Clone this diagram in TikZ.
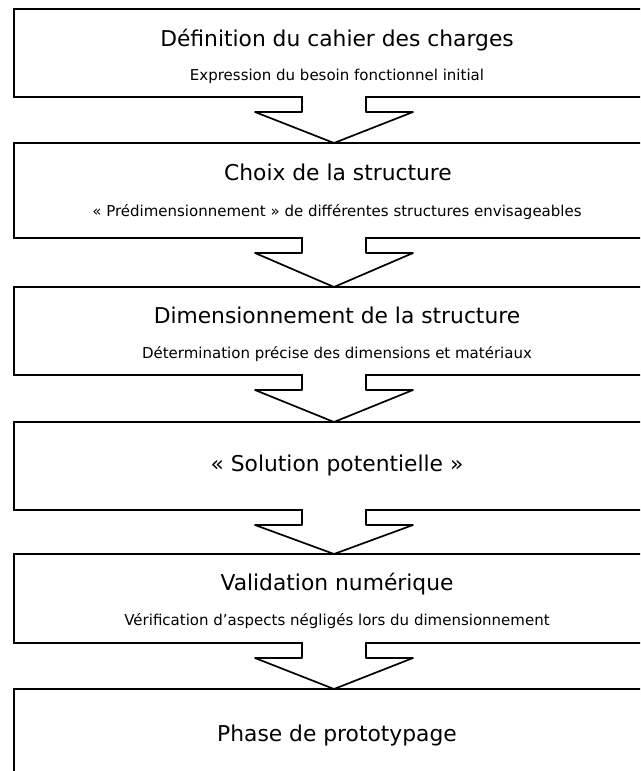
\documentclass[tikz,border=0pt]{standalone}
\usepackage{fontspec}
\setmainfont{DejaVu Sans}
\usetikzlibrary{calc}
\tikzset{
  stage/.style={draw=black, line width=2pt, fill=white, minimum width=640pt,
    inner sep=0pt, outer sep=0pt, anchor=north west},
  ttl/.style={anchor=base, inner sep=0pt, font=\fontsize{21.8}{26}\selectfont},
  sub/.style={anchor=base, inner sep=0pt, font=\fontsize{15}{18}\selectfont},
  arrline/.style={draw=black, line width=1.7pt, line join=round},
}
\newcommand\blockarrow[2]{%
  \fill[white] ($(#1.south)+(-32,-1.3)$) -- ($(#1.south)+(-32,15)$) -- ($(#1.south)+(-79,15)$)
     -- (#2.north) -- ($(#1.south)+(79,15)$) -- ($(#1.south)+(32,15)$) -- ($(#1.south)+(32,-1.3)$) -- cycle;
  \draw[arrline] ($(#1.south)+(-32,-1)$) -- ($(#1.south)+(-32,15)$) -- ($(#1.south)+(-79,15)$)
     -- (#2.north) -- ($(#1.south)+(79,15)$) -- ($(#1.south)+(32,15)$) -- ($(#1.south)+(32,-1)$);
}
\begin{document}
\begin{tikzpicture}[x=1pt,y=-1pt]
\useasboundingbox (0,0) rectangle (640,771);
\fill[white] (0,0) rectangle (640,771);
\clip (0,0) rectangle (640,771);
\node[stage, minimum height=88pt] (b1) at (14,9) {};
\node[stage, minimum height=95pt] (b2) at (14,143) {};
\node[stage, minimum height=88pt] (b3) at (14,287) {};
\node[stage, minimum height=88pt] (b4) at (14,422) {};
\node[stage, minimum height=89pt] (b5) at (14,554) {};
\node[stage, minimum height=120pt] (b6) at (14,689) {};

\node[ttl] (t1) at (337,46) {Définition du cahier des charges};
\node[sub] (s1) at (337,80) {Expression du besoin fonctionnel initial};
\node[ttl] (t2) at (338,180) {Choix de la structure};
\node[sub] (s2) at (337,216) {« Prédimensionnement » de différentes structures envisageables};
\node[ttl] (t3) at (337,323) {Dimensionnement de la structure};
\node[sub] (s3) at (337,358) {Détermination précise des dimensions et matériaux};
\node[ttl] (t4) at (337,471) {« Solution potentielle »};
\node[ttl] (t5) at (337,590) {Validation numérique};
\node[sub] (s5) at (337,625) {Vérification d’aspects négligés lors du dimensionnement};
\node[ttl] (t6) at (337,741) {Phase de prototypage};

\blockarrow{b1}{b2}
\blockarrow{b2}{b3}
\blockarrow{b3}{b4}
\blockarrow{b4}{b5}
\blockarrow{b5}{b6}
\end{tikzpicture}
\end{document}
